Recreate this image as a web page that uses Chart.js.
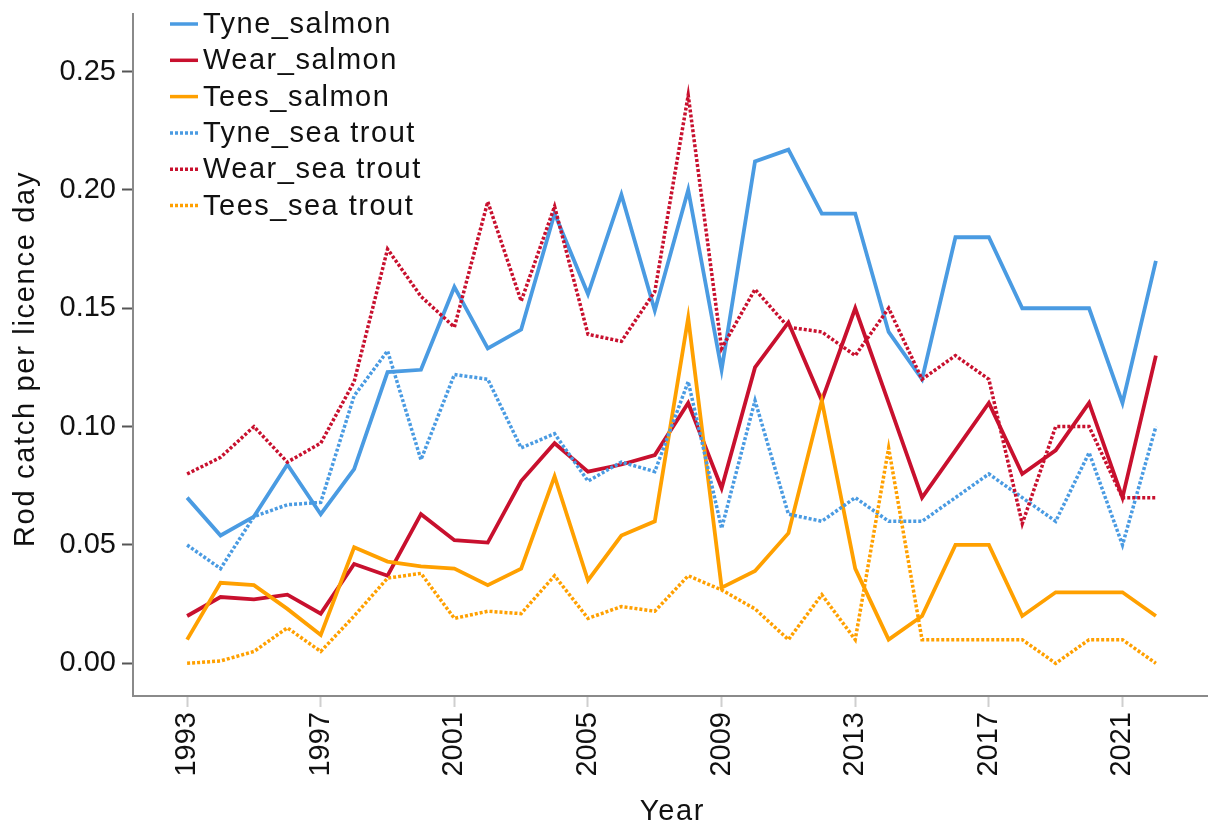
<!DOCTYPE html>
<html>
<head>
<meta charset="utf-8">
<title>Rod catch per licence day</title>
<script src="https://cdn.jsdelivr.net/npm/chart.js@4.4.1/dist/chart.umd.min.js"></script>
<style>
  html, body { margin: 0; padding: 0; background: #fff; }
  #wrap { width: 1208px; height: 829px; }
</style>
</head>
<body>
<div id="wrap"><canvas id="catchChart" width="1208" height="829"></canvas></div>
<script>
// data
const years = [1993, 1994, 1995, 1996, 1997, 1998, 1999, 2000, 2001, 2002,
  2003, 2004, 2005, 2006, 2007, 2008, 2009, 2010, 2011, 2012,
  2013, 2014, 2015, 2016, 2017, 2018, 2019, 2020, 2021, 2022];
const tyneSalmon = [0.070, 0.054, 0.062, 0.084, 0.063, 0.082, 0.123, 0.124, 0.159, 0.133,
  0.141, 0.190, 0.156, 0.198, 0.149, 0.200, 0.124, 0.212, 0.217, 0.190,
  0.190, 0.140, 0.120, 0.180, 0.180, 0.150, 0.150, 0.150, 0.110, 0.170];
const wearSalmon = [0.020, 0.028, 0.027, 0.029, 0.021, 0.042, 0.037, 0.063, 0.052, 0.051,
  0.077, 0.093, 0.081, 0.084, 0.088, 0.110, 0.074, 0.125, 0.144, 0.111,
  0.150, 0.110, 0.070, 0.090, 0.110, 0.080, 0.090, 0.110, 0.070, 0.130];
const teesSalmon = [0.010, 0.034, 0.033, 0.023, 0.012, 0.049, 0.043, 0.041, 0.040, 0.033,
  0.040, 0.079, 0.035, 0.054, 0.060, 0.146, 0.032, 0.039, 0.055, 0.111,
  0.040, 0.010, 0.020, 0.050, 0.050, 0.020, 0.030, 0.030, 0.030, 0.020];
const tyneTrout = [0.050, 0.040, 0.062, 0.067, 0.068, 0.113, 0.132, 0.086, 0.122, 0.120,
  0.091, 0.097, 0.077, 0.085, 0.081, 0.119, 0.057, 0.111, 0.063, 0.060,
  0.070, 0.060, 0.060, 0.070, 0.080, 0.070, 0.060, 0.089, 0.050, 0.100];
const wearTrout = [0.080, 0.087, 0.100, 0.085, 0.093, 0.119, 0.175, 0.155, 0.142, 0.195,
  0.153, 0.193, 0.139, 0.136, 0.157, 0.240, 0.133, 0.158, 0.142, 0.140,
  0.130, 0.150, 0.120, 0.130, 0.120, 0.059, 0.100, 0.100, 0.070, 0.070];
const teesTrout = [0.000, 0.001, 0.005, 0.015, 0.005, 0.020, 0.036, 0.038, 0.019, 0.022,
  0.021, 0.037, 0.019, 0.024, 0.022, 0.037, 0.031, 0.023, 0.010, 0.029,
  0.010, 0.091, 0.010, 0.010, 0.010, 0.010, 0.000, 0.010, 0.010, 0.000];
const seriesNames = ["Tyne_salmon", "Wear_salmon", "Tees_salmon",
  "Tyne_sea trout", "Wear_sea trout", "Tees_sea trout"];
const xTicks = [1993, 1997, 2001, 2005, 2009, 2013, 2017, 2021];
const yTicks = [0.00, 0.05, 0.10, 0.15, 0.20, 0.25];
const xTitle = "Year";
const yTitle = "Rod catch per licence day";

const BLUE = "#4a9be2";
const RED = "#c8102e";
const ORANGE = "#ffa000";
const FONT = "'Liberation Sans', Arial, Helvetica, sans-serif";

function makeSet(i, values, color, dotted) {
  return {
    label: seriesNames[i],
    data: years.map((yr, k) => ({ x: yr, y: values[k] })),
    borderColor: color,
    backgroundColor: color,
    borderWidth: dotted ? 3.5 : 3.8,
    borderDash: dotted ? [3, 2] : [],
    borderCapStyle: "butt",
    borderJoinStyle: "miter",
    pointRadius: 0,
    tension: 0,
    order: 5 - i
  };
}

// legend inside the plot (top-left) and the two axis titles
const labelsPlugin = {
  id: "labelsPlugin",
  afterDraw(chart) {
    const ctx = chart.ctx;
    ctx.save();
    ctx.font = "29px " + FONT;
    ctx.textBaseline = "middle";
    ctx.fillStyle = "#111";
    ctx.letterSpacing = "1.5px";
    chart.data.datasets.forEach((ds, i) => {
      const y = 24 + i * 36.3;
      ctx.beginPath();
      ctx.strokeStyle = ds.borderColor;
      ctx.lineWidth = 3.5;
      ctx.setLineDash(ds.borderDash);
      ctx.moveTo(170, y);
      ctx.lineTo(198, y);
      ctx.stroke();
      ctx.setLineDash([]);
      ctx.fillText(ds.label, 203, y + 1);
    });

    // axis titles
    ctx.letterSpacing = "1.7px";
    ctx.textAlign = "center";
    ctx.fillText(xTitle, (chart.chartArea.left + chart.chartArea.right) / 2 + 2, 812);
    ctx.translate(26, (chart.chartArea.top + chart.chartArea.bottom) / 2 + 4);
    ctx.rotate(-Math.PI / 2);
    ctx.fillText(yTitle, 0, 0);
    ctx.restore();
  }
};

const chart = new Chart(document.getElementById("catchChart").getContext("2d"), {
  type: "line",
  data: {
    datasets: [
      makeSet(0, tyneSalmon, BLUE, false),
      makeSet(1, wearSalmon, RED, false),
      makeSet(2, teesSalmon, ORANGE, false),
      makeSet(3, tyneTrout, BLUE, true),
      makeSet(4, wearTrout, RED, true),
      makeSet(5, teesTrout, ORANGE, true)
    ]
  },
  options: {
    responsive: false,
    animation: false,
    devicePixelRatio: 1,
    layout: { padding: { top: 14, right: 0, left: 0, bottom: 0 } },
    plugins: {
      legend: { display: false },
      tooltip: { enabled: false }
    },
    scales: {
      x: {
        type: "linear",
        min: 1991.38,
        max: 2023.56,
        afterBuildTicks: (scale) => { scale.ticks = xTicks.map(v => ({ value: v })); },
        afterFit: (scale) => { scale.height = 133; },
        border: { display: true, color: "#8a8a8a", width: 2 },
        grid: { drawOnChartArea: false, drawTicks: true, tickLength: 11, tickColor: "#cfcfcf", tickWidth: 2 },
        ticks: {
          minRotation: 90,
          maxRotation: 90,
          padding: 5,
          color: "#111",
          font: { family: FONT, size: 29, lineHeight: 0.8 },
          callback: (v) => String(v)
        }
      },
      y: {
        type: "linear",
        min: -0.0138,
        max: 0.2743,
        afterBuildTicks: (scale) => { scale.ticks = yTicks.map(v => ({ value: v })); },
        afterFit: (scale) => { scale.width = 133; },
        border: { display: true, color: "#8a8a8a", width: 2 },
        grid: { drawOnChartArea: false, drawTicks: true, tickLength: 11, tickColor: "#555", tickWidth: 2 },
        ticks: {
          padding: 6,
          color: "#111",
          font: { family: FONT, size: 29, lineHeight: 0.3 },
          callback: (v) => Number(v).toFixed(2)
        }
      }
    }
  },
  plugins: [labelsPlugin]
});
</script>
</body>
</html>
